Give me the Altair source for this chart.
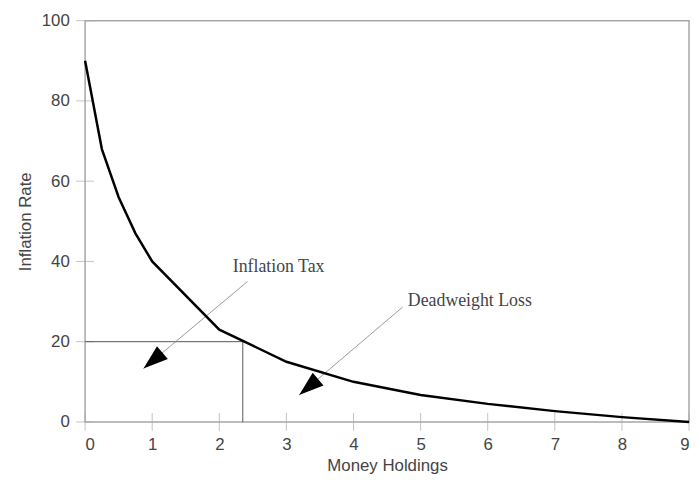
import altair as alt
import pandas as pd

# Demand-for-money curve
money = [0, 0.25, 0.5, 0.75, 1, 2, 3, 4, 5, 6, 7, 8, 9]
inflation = [90, 68, 56, 47, 40, 23, 15, 10, 6.7, 4.5, 2.7, 1.2, 0]

# Guide lines at inflation = 20
guide_x = [0, 2.35, 2.35]
guide_y = [20, 20, 0]

# Annotations
labels = ["Inflation Tax", "Deadweight Loss"]
label_x = [2.2, 4.81]
label_y = [38.7, 30]
arrow_x0 = [2.42, 4.73]
arrow_y0 = [35, 28.6]
arrow_x1 = [0.87, 3.19]
arrow_y1 = [13.3, 6.7]
arrow_angle = [230, 230]

x_ticks = [0, 1, 2, 3, 4, 5, 6, 7, 8, 9]
y_ticks = [0, 20, 40, 60, 80, 100]

curve_df = pd.DataFrame({"m": money, "i": inflation})
guide_df = pd.DataFrame({"m": guide_x, "i": guide_y, "o": [0, 1, 2]})
ann_df = pd.DataFrame({
    "label": labels, "lx": label_x, "ly": label_y,
    "x0": arrow_x0, "y0": arrow_y0, "x1": arrow_x1, "y1": arrow_y1,
    "ang": arrow_angle,
})
xt_df = pd.DataFrame({"v": x_ticks})
yt_df = pd.DataFrame({"v": y_ticks})

xs = alt.Scale(domain=[0, 9], nice=False, zero=False)
ys = alt.Scale(domain=[0, 100], nice=False)

X = alt.X("m:Q", scale=xs, title="Money Holdings",
          axis=alt.Axis(values=x_ticks, format="d", ticks=False, domain=False, grid=False,
                        labelPadding=15, titlePadding=5))
Y = alt.Y("i:Q", scale=ys, title="Inflation Rate",
          axis=alt.Axis(values=y_ticks, format="d", ticks=False, domain=False, grid=False,
                        labelPadding=16, titlePadding=7))

curve = alt.Chart(curve_df).mark_line(color="black", strokeWidth=2.5).encode(x=X, y=Y)

guide = alt.Chart(guide_df).mark_line(color="#555555", strokeWidth=1).encode(
    x=alt.X("m:Q", scale=xs), y=alt.Y("i:Q", scale=ys), order="o:Q")

arrow_lines = alt.Chart(ann_df).mark_rule(color="#9a9a9a", strokeWidth=1).encode(
    x=alt.X("x0:Q", scale=xs), y=alt.Y("y0:Q", scale=ys), x2="x1:Q", y2="y1:Q")

heads = alt.Chart(ann_df).mark_point(
    shape="M0,0 L0.34,1 L-0.34,1 Z", filled=True, color="black", opacity=1, size=2500
).encode(x=alt.X("x1:Q", scale=xs), y=alt.Y("y1:Q", scale=ys),
         angle=alt.Angle("ang:Q", scale=None))

texts = alt.Chart(ann_df).mark_text(
    align="left", baseline="middle", font="Liberation Serif", fontSize=18, color="#444444"
).encode(x=alt.X("lx:Q", scale=xs), y=alt.Y("ly:Q", scale=ys), text="label:N")

ytk = alt.Chart(yt_df).mark_tick(orient="horizontal", size=18, thickness=1, color="#aaaaaa").encode(
    y=alt.Y("v:Q", scale=ys), x=alt.datum(0, scale=xs))
xtk = alt.Chart(xt_df).mark_tick(orient="vertical", size=18, thickness=1, color="#aaaaaa").encode(
    x=alt.X("v:Q", scale=xs), y=alt.datum(0, scale=ys))

chart = alt.layer(ytk, xtk, guide, arrow_lines, curve, heads, texts).properties(
    width=611, height=406,
    padding={"left": 78, "top": 10, "right": 2, "bottom": 61},
    autosize="none",
).configure_view(stroke="#a6a6a6", strokeWidth=1.5).configure_axis(
    labelFont="Liberation Sans", labelFontSize=17, labelColor="#444444",
    titleFont="Liberation Sans", titleFontSize=17, titleFontWeight="normal",
    titleColor="#444444",
)

chart.save("out.html", embed_options={"renderer": "svg", "actions": False})
